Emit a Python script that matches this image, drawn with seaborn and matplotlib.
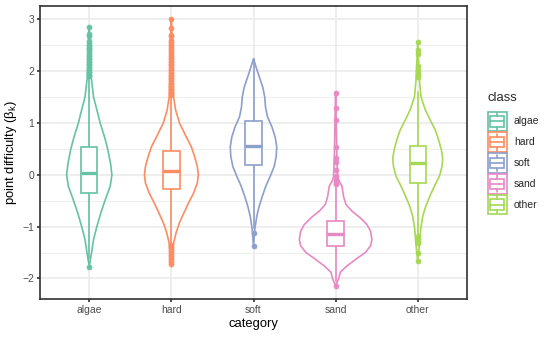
import numpy as np
import matplotlib
matplotlib.use("Agg")
import matplotlib.pyplot as plt
from matplotlib.patches import Rectangle
import seaborn as sns

# categories and colours
categories = ["algae", "hard", "soft", "sand", "other"]
palette = sns.color_palette("Set2", 5)

# violin outlines: y value -> half width (x units)
violin_y = {
    "algae": [2.85, 2.5, 2.2, 1.88, 1.5, 1.245, 0.99, 0.73, 0.48, 0.22, 0.0,
              -0.22, -0.48, -0.73, -0.99, -1.25, -1.5, -1.77],
    "hard": [3.0, 2.6, 2.0, 1.53, 1.245, 0.99, 0.73, 0.54, 0.35, 0.16, 0.0,
             -0.16, -0.35, -0.54, -0.73, -0.93, -1.12, -1.31, -1.5, -1.72],
    "soft": [2.24, 2.07, 1.88, 1.69, 1.5, 1.31, 1.12, 0.93, 0.73, 0.54, 0.35,
             0.16, -0.03, -0.22, -0.42, -0.61, -0.8, -1.05, -1.38],
    "sand": [1.6, 1.0, 0.4, -0.03, -0.1, -0.22, -0.42, -0.57, -0.7, -0.83,
             -0.96, -1.09, -1.25, -1.37, -1.5, -1.63, -1.76, -1.88, -2.01, -2.14],
    "other": [2.57, 2.2, 1.82, 1.5, 1.245, 1.05, 0.86, 0.67, 0.48, 0.32, 0.16,
              -0.03, -0.22, -0.42, -0.61, -0.8, -1.05, -1.31, -1.67],
}
violin_w = {
    "algae": [0, 0.01, 0.017, 0.024, 0.052, 0.094, 0.134, 0.186, 0.227, 0.259,
              0.276, 0.255, 0.195, 0.142, 0.094, 0.052, 0.028, 0],
    "hard": [0, 0.01, 0.018, 0.024, 0.052, 0.101, 0.182, 0.243, 0.283, 0.316,
             0.328, 0.316, 0.271, 0.21, 0.154, 0.097, 0.057, 0.028, 0.015, 0],
    "soft": [0, 0.033, 0.073, 0.113, 0.137, 0.146, 0.17, 0.223, 0.264, 0.283,
             0.276, 0.252, 0.203, 0.15, 0.106, 0.069, 0.04, 0.016, 0],
    "sand": [0, 0.008, 0.015, 0.025, 0.036, 0.077, 0.097, 0.125, 0.198, 0.3,
             0.381, 0.426, 0.442, 0.426, 0.361, 0.247, 0.137, 0.057, 0.036, 0],
    "other": [0, 0.01, 0.021, 0.04, 0.094, 0.154, 0.215, 0.255, 0.288, 0.304,
              0.296, 0.264, 0.203, 0.146, 0.097, 0.061, 0.036, 0.024, 0],
}

# box statistics
q1 = [-0.36, -0.27, 0.18, -1.37, -0.15]
med = [0.03, 0.065, 0.56, -1.14, 0.22]
q3 = [0.53, 0.45, 1.03, -0.89, 0.56]
whis_lo = [-1.6, -1.33, -1.02, -2.05, -1.15]
whis_hi = [1.87, 1.52, 2.24, -0.2, 1.6]
outliers = {
    "algae": [1.90, 1.93, 1.96, 1.99, 2.02, 2.05, 2.08, 2.11, 2.14, 2.17, 2.20,
              2.23, 2.26, 2.29, 2.32, 2.35, 2.38, 2.42, 2.45, 2.48, 2.51, 2.55,
              2.59, 2.68, 2.72, 2.85, -1.77],
    "hard": [1.54, 1.57, 1.60, 1.63, 1.66, 1.69, 1.72, 1.75, 1.78, 1.81, 1.84,
             1.87, 1.90, 1.93, 1.96, 1.99, 2.02, 2.05, 2.08, 2.11, 2.14, 2.17,
             2.20, 2.23, 2.26, 2.29, 2.33, 2.37, 2.41, 2.45, 2.49, 2.53, 2.57,
             2.61, 2.67, 2.70, 2.83, 3.0,
             -1.36, -1.39, -1.42, -1.45, -1.48, -1.51, -1.54, -1.57, -1.60,
             -1.64, -1.68, -1.72],
    "soft": [-1.12, -1.38],
    "sand": [1.58, 1.29, 1.05, 0.54, 0.32, 0.24, 0.10, -0.03, -0.08, -0.12,
             -0.15, -0.18, -2.14],
    "other": [2.57, 2.41, 2.33, 2.10, 2.03, 1.97, 1.92, 1.88,
              -1.19, -1.23, -1.27, -1.31, -1.5, -1.67],
}

sns.set_theme(style="whitegrid")
plt.rcParams["font.family"] = ["Liberation Sans", "DejaVu Sans"]
plt.rcParams["mathtext.fontset"] = "custom"
plt.rcParams["mathtext.rm"] = "Liberation Sans"
plt.rcParams["mathtext.it"] = "Liberation Sans"

DPI = 85
W, H = 554, 338
LW = 1.42
fig = plt.figure(figsize=(W / DPI, H / DPI), dpi=DPI)
fig.patch.set_facecolor("white")
ax = fig.add_axes([40 / W, 1 - 299 / H, 427 / W, 293 / H])
ax.set_facecolor("white")

pos = np.arange(len(categories))

# violins
vpstats = []
widths = []
for c in categories:
    y = np.array(violin_y[c])
    w = np.array(violin_w[c])
    vpstats.append(dict(coords=y, vals=w, mean=np.mean(y), median=np.median(y),
                        min=y.min(), max=y.max()))
    widths.append(2 * w.max())
vp = ax.violin(vpstats, positions=pos, widths=widths,
               showmeans=False, showextrema=False, showmedians=False)
for body, col in zip(vp["bodies"], palette):
    body.set_facecolor("none")
    body.set_edgecolor(col)
    body.set_linewidth(LW)
    body.set_alpha(1)
    body.set_zorder(2)

# boxes
bxpstats = []
for i, c in enumerate(categories):
    bxpstats.append(dict(med=med[i], q1=q1[i], q3=q3[i], whislo=whis_lo[i],
                         whishi=whis_hi[i], fliers=outliers[c], label=c))
bp = ax.bxp(bxpstats, positions=pos, widths=0.2, patch_artist=True,
            showcaps=False, manage_ticks=False)
for i, col in enumerate(palette):
    bp["boxes"][i].set(facecolor="white", edgecolor=col, linewidth=LW, zorder=3)
    bp["medians"][i].set(color=col, linewidth=2 * LW, zorder=3.5,
                         solid_capstyle="butt")
    for wl in bp["whiskers"][2 * i:2 * i + 2]:
        wl.set(color=col, linewidth=LW, zorder=2.5)
    bp["fliers"][i].set(marker="o", markerfacecolor=col, markeredgecolor=col,
                        markersize=4.3, markeredgewidth=0.5, zorder=4)

# axes styling (theme_bw look)
ax.set_xlim(-0.6, 4.6)
ax.set_ylim(-2.397, 3.257)
ax.set_xticks(pos)
ax.set_xticklabels(categories)
ax.set_yticks([-2, -1, 0, 1, 2, 3])
ax.set_yticks([-1.5, -0.5, 0.5, 1.5, 2.5], minor=True)
ax.set_axisbelow(True)
ax.grid(which="major", color="#EBEBEB", linewidth=LW)
ax.grid(which="minor", axis="y", color="#EBEBEB", linewidth=LW / 2)
ax.grid(which="minor", axis="x", visible=False)
for s in ax.spines.values():
    s.set_edgecolor("#333333")
    s.set_linewidth(LW)
ax.tick_params(which="major", length=2.75, width=LW, color="#333333",
               labelsize=8.8, labelcolor="#4D4D4D", pad=2.2,
               bottom=True, left=True)
ax.tick_params(which="minor", length=0)
ax.set_xlabel("category", fontsize=11, color="black", labelpad=2.5)
ax.set_ylabel(r"point difficulty ($\beta_k$)", fontsize=11, color="black",
              labelpad=3)

# legend drawn in pixel space
ov = fig.add_axes([0, 0, 1, 1], zorder=5)
ov.set_xlim(0, W)
ov.set_ylim(H, 0)
ov.axis("off")
ov.text(487, 98, "class", fontsize=11, va="center", ha="left")
kx, kw, kh = 488, 18.5, 20.8
for i, (c, col) in enumerate(zip(categories, palette)):
    top = 111 + kh * i
    ov.add_patch(Rectangle((kx, top + 0.6), kw, kh - 1.2, facecolor="none",
                           edgecolor=col, linewidth=LW))
    bx0, bx1 = kx + 0.125 * kw, kx + 0.875 * kw
    by0, by1 = top + 0.25 * kh, top + 0.75 * kh
    ov.add_patch(Rectangle((bx0, by0), bx1 - bx0, by1 - by0, facecolor="white",
                           edgecolor=col, linewidth=LW))
    ov.plot([bx0, bx1], [top + 0.5 * kh] * 2, color=col, linewidth=LW)
    xm = kx + kw / 2
    ov.plot([xm, xm], [top + 0.1 * kh, by0], color=col, linewidth=LW)
    ov.plot([xm, xm], [by1, top + 0.9 * kh], color=col, linewidth=LW)
    ov.text(514, top + kh / 2, c, fontsize=8.8, va="center", ha="left")

fig.savefig("out.png", dpi=DPI)
